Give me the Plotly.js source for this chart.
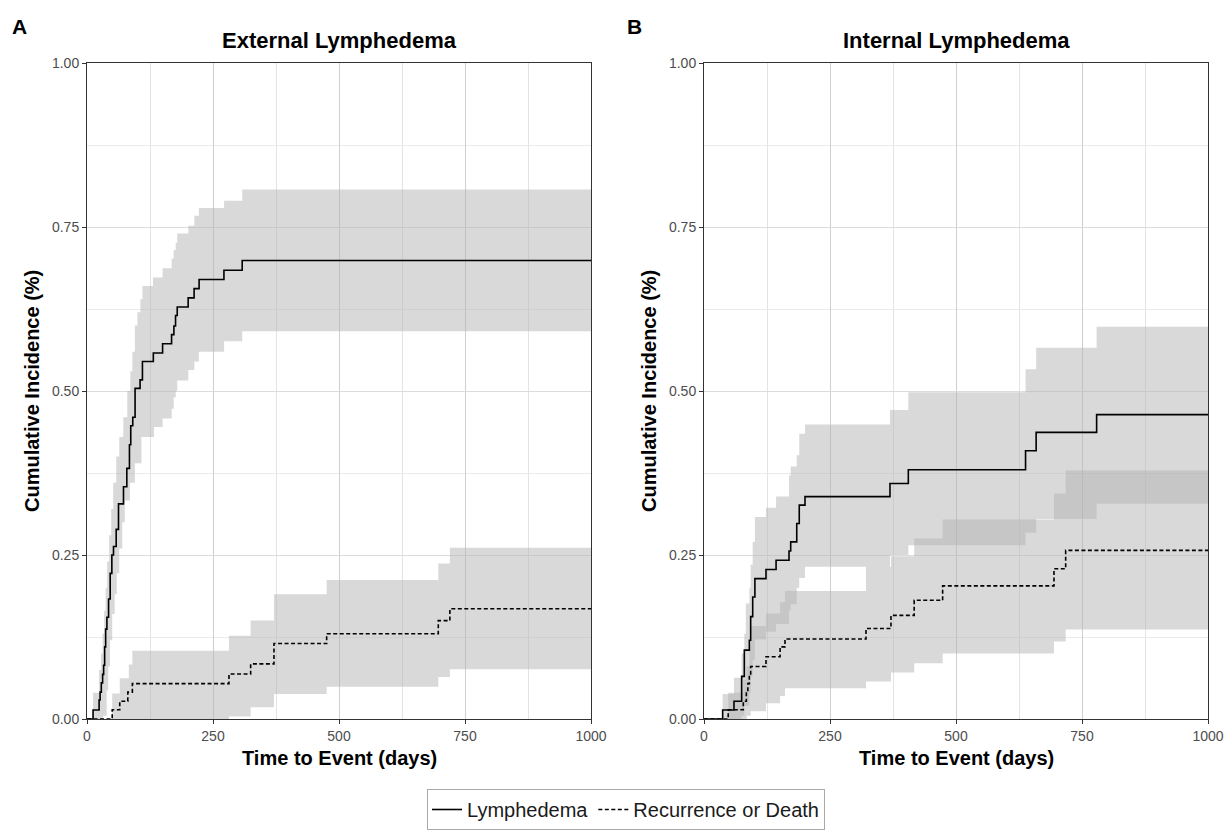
<!DOCTYPE html>
<html>
<head>
<meta charset="utf-8">
<script src="https://cdn.plot.ly/plotly-3.0.1.min.js"></script>
<style>html,body{margin:0;padding:0;background:#fff;}#chart{width:1227px;height:832px;}</style>
</head>
<body>
<div id="chart"></div>
<script>
// ---------------- DATA (time in days, cumulative incidence) ----------------
// Panel A: External Lymphedema
const extLymphT  = [0, 12, 24, 26, 28.4, 31, 33, 35, 37, 39.5, 42.8, 46, 49.3, 52.6, 57.9, 62.5, 72.4, 79, 84.2, 86.8, 90.8, 95.4, 105.3, 110, 131.6, 150, 167.8, 172.4, 175.7, 179, 200.7, 212.5, 222.4, 271.7, 307.9];
const extLymphV  = [0, 0.0137, 0.029, 0.041, 0.055, 0.068, 0.082, 0.11, 0.137, 0.155, 0.183, 0.222, 0.25, 0.263, 0.289, 0.328, 0.354, 0.382, 0.418, 0.447, 0.46, 0.504, 0.517, 0.545, 0.558, 0.572, 0.586, 0.599, 0.615, 0.628, 0.642, 0.656, 0.67, 0.684, 0.699];
const extLymphUpT = [0, 12, 24, 28, 31, 34, 37, 40, 44, 48, 52, 58, 64, 72, 80, 86, 90, 95, 100, 106, 110, 131, 150, 168, 172, 176, 179, 201, 213, 222, 272, 308];
const extLymphUpV = [0, 0.04, 0.075, 0.10, 0.13, 0.165, 0.20, 0.24, 0.28, 0.32, 0.36, 0.40, 0.43, 0.46, 0.50, 0.53, 0.56, 0.60, 0.62, 0.64, 0.66, 0.673, 0.687, 0.702, 0.715, 0.726, 0.74, 0.752, 0.767, 0.779, 0.79, 0.807];
const extLymphLoT = [0, 32, 39, 42, 45.6, 50, 55, 59, 64, 70, 75, 85, 95, 108, 133, 150, 168, 172, 176, 179, 201, 213, 222, 272, 308];
const extLymphLoV = [0, 0.005, 0.044, 0.08, 0.12, 0.16, 0.19, 0.222, 0.26, 0.30, 0.333, 0.36, 0.39, 0.43, 0.445, 0.458, 0.473, 0.49, 0.50, 0.516, 0.532, 0.545, 0.56, 0.576, 0.591];

const extDeathT  = [0, 50, 65, 81, 90, 281.7, 324.7, 371, 475.5, 697, 720];
const extDeathV  = [0, 0.014, 0.027, 0.041, 0.054, 0.0685, 0.084, 0.115, 0.130, 0.150, 0.168];
const extDeathUpT = [0, 50, 65, 83, 90, 281.7, 324.7, 371, 475.5, 697, 720];
const extDeathUpV = [0, 0.039, 0.062, 0.083, 0.104, 0.127, 0.150, 0.19, 0.212, 0.237, 0.261];
const extDeathLoT = [0, 281.7, 324.7, 371, 475.5, 697, 720];
const extDeathLoV = [0, 0.004, 0.018, 0.038, 0.049, 0.064, 0.076];

// Panel B: Internal Lymphedema
const intLymphT  = [0, 37, 59.5, 74.7, 80, 90, 92.6, 96.6, 101, 123, 143, 168.7, 172, 184, 189, 200.4, 369, 405.4, 638, 659, 779];
const intLymphV  = [0, 0.0137, 0.027, 0.065, 0.105, 0.12, 0.156, 0.186, 0.214, 0.228, 0.242, 0.256, 0.27, 0.298, 0.326, 0.339, 0.359, 0.38, 0.409, 0.437, 0.464];
const intLymphUpT = [0, 37, 59.5, 74.7, 80, 83, 90, 92.6, 96.6, 101, 123, 143, 168.7, 172, 184, 189, 200.4, 369, 405.4, 638, 659, 779];
const intLymphUpV = [0, 0.038, 0.063, 0.10, 0.13, 0.176, 0.20, 0.235, 0.27, 0.308, 0.322, 0.339, 0.371, 0.385, 0.402, 0.435, 0.449, 0.471, 0.498, 0.533, 0.566, 0.598];
const intLymphLoT = [0, 74.7, 80, 90, 92.6, 96.6, 101, 123, 143, 168.7, 172, 184, 189, 200.4, 369, 405.4, 638, 659, 779];
const intLymphLoV = [0, 0.005, 0.02, 0.04, 0.065, 0.09, 0.121, 0.133, 0.145, 0.165, 0.175, 0.20, 0.215, 0.232, 0.25, 0.265, 0.284, 0.305, 0.328];

const intDeathT  = [0, 48, 78, 84, 87, 90, 92.6, 123, 151, 160.7, 321.4, 371, 417, 473.5, 694.4, 717.6];
const intDeathV  = [0, 0.014, 0.027, 0.041, 0.054, 0.067, 0.08, 0.095, 0.11, 0.122, 0.138, 0.158, 0.181, 0.203, 0.229, 0.257];
const intDeathUpT = [0, 48, 78, 84, 90, 92.6, 123, 151, 160.7, 321.4, 371, 417, 473.5, 694.4, 717.6];
const intDeathUpV = [0, 0.04, 0.06, 0.08, 0.11, 0.1416, 0.161, 0.178, 0.195, 0.232, 0.248, 0.275, 0.304, 0.3435, 0.379];
const intDeathLoT = [0, 85, 92.6, 123, 151, 160.7, 321.4, 371, 417, 473.5, 694.4, 717.6];
const intDeathLoV = [0, 0.005, 0.012, 0.024, 0.035, 0.047, 0.057, 0.071, 0.085, 0.1, 0.118, 0.1365];

const xTickVals = [0, 250, 500, 750, 1000];
const yTickVals = [0, 0.25, 0.5, 0.75, 1];
const seriesNames = ['Lymphedema', 'Recurrence or Death'];
const panelTitles = ['External Lymphedema', 'Internal Lymphedema'];
const panelLetters = ['A', 'B'];
const tEnd = 1000;

// ---------------- helpers ----------------
function stepPath(t, v, end) {
  const xs = [], ys = [];
  for (let i = 0; i < t.length; i++) {
    const next = i < t.length - 1 ? t[i + 1] : end;
    xs.push(t[i]); ys.push(v[i]);
    xs.push(next); ys.push(v[i]);
  }
  return {xs, ys};
}
function band(upT, upV, loT, loV, xa, ya) {
  const u = stepPath(upT, upV, tEnd), l = stepPath(loT, loV, tEnd);
  return {
    x: u.xs.concat(l.xs.slice().reverse()),
    y: u.ys.concat(l.ys.slice().reverse()),
    xaxis: xa, yaxis: ya, type: 'scatter', mode: 'lines',
    fill: 'toself', fillcolor: 'rgba(179,179,179,0.5)',
    line: {width: 0}, hoverinfo: 'skip', showlegend: false
  };
}
function curve(t, v, xa, ya, dash, name, show) {
  return {
    x: t.concat([tEnd]), y: v.concat([v[v.length - 1]]),
    xaxis: xa, yaxis: ya, type: 'scatter', mode: 'lines',
    line: {shape: 'hv', color: '#000', width: 1.6, dash: dash},
    name: name, showlegend: show, legendgroup: name
  };
}

const data = [
  band(extLymphUpT, extLymphUpV, extLymphLoT, extLymphLoV, 'x', 'y'),
  band(extDeathUpT, extDeathUpV, extDeathLoT, extDeathLoV, 'x', 'y'),
  band(intLymphUpT, intLymphUpV, intLymphLoT, intLymphLoV, 'x2', 'y2'),
  band(intDeathUpT, intDeathUpV, intDeathLoT, intDeathLoV, 'x2', 'y2'),
  curve(extLymphT, extLymphV, 'x', 'y', 'solid', seriesNames[0], true),
  curve(extDeathT, extDeathV, 'x', 'y', '4px,2.5px', seriesNames[1], true),
  curve(intLymphT, intLymphV, 'x2', 'y2', 'solid', seriesNames[0], false),
  curve(intDeathT, intDeathV, 'x2', 'y2', '4px,2.5px', seriesNames[1], false)
];

const W = 1227, H = 832;
const px = v => v / W, py = v => 1 - v / H;
const font = '"Liberation Sans", Arial, Helvetica, sans-serif';

function xAxis(domain, anchor) {
  return {
    domain: domain, anchor: anchor, range: [0, 1000], tickmode: 'array', tickvals: xTickVals,
    ticks: 'outside', ticklen: 4, tickwidth: 1, tickcolor: '#333',
    showline: true, mirror: true, linecolor: '#333', linewidth: 1,
    showgrid: true, gridcolor: '#cfcfcf', gridwidth: 1,
    minor: {tickmode: 'array', tickvals: [125, 375, 625, 875], showgrid: true, gridcolor: '#e3e3e3', gridwidth: 1, ticks: ''},
    zeroline: false, tickfont: {family: font, size: 14, color: '#4d4d4d'}, fixedrange: true
  };
}
function yAxis(domain, anchor) {
  return {
    domain: domain, anchor: anchor, range: [0, 1], tickmode: 'array', tickvals: yTickVals, tickformat: '.2f',
    ticks: 'outside', ticklen: 4, tickwidth: 1, tickcolor: '#333',
    showline: true, mirror: true, linecolor: '#333', linewidth: 1,
    showgrid: true, gridcolor: '#dcdcdc', gridwidth: 1,
    minor: {tickmode: 'array', tickvals: [0.125, 0.375, 0.625, 0.875], showgrid: true, gridcolor: '#ebebeb', gridwidth: 1, ticks: ''},
    zeroline: false, tickfont: {family: font, size: 14, color: '#4d4d4d'}, fixedrange: true
  };
}

const yDom = [1 - 719 / H, 1 - 63 / H];
const layout = {
  width: W, height: H, margin: {l: 0, r: 0, t: 0, b: 0},
  paper_bgcolor: '#fff', plot_bgcolor: '#fff',
  xaxis: xAxis([px(87), px(591)], 'y'),
  yaxis: yAxis(yDom, 'x'),
  xaxis2: xAxis([px(704), px(1208)], 'y2'),
  yaxis2: yAxis(yDom, 'x2'),
  showlegend: true,
  legend: {
    orientation: 'h', x: px(626), xanchor: 'center', y: py(789), yanchor: 'top',
    bordercolor: '#aaaaaa', borderwidth: 1, bgcolor: '#fff',
    font: {family: font, size: 20, color: '#1a1a1a'}, itemwidth: 30, tracegroupgap: 0
  },
  annotations: [
    {text: '<b>' + panelLetters[0] + '</b>', x: px(19), y: py(26), xref: 'paper', yref: 'paper', showarrow: false, xanchor: 'center', yanchor: 'middle', font: {family: font, size: 21, color: '#000'}},
    {text: '<b>' + panelLetters[1] + '</b>', x: px(634), y: py(26), xref: 'paper', yref: 'paper', showarrow: false, xanchor: 'center', yanchor: 'middle', font: {family: font, size: 21, color: '#000'}},
    {text: '<b>' + panelTitles[0] + '</b>', x: px(339), y: py(41), xref: 'paper', yref: 'paper', showarrow: false, xanchor: 'center', yanchor: 'middle', font: {family: font, size: 22, color: '#000'}},
    {text: '<b>' + panelTitles[1] + '</b>', x: px(956), y: py(41), xref: 'paper', yref: 'paper', showarrow: false, xanchor: 'center', yanchor: 'middle', font: {family: font, size: 22, color: '#000'}},
    {text: '<b>Time to Event (days)</b>', x: px(339), y: py(758), xref: 'paper', yref: 'paper', showarrow: false, xanchor: 'center', yanchor: 'middle', font: {family: font, size: 20, color: '#000'}},
    {text: '<b>Time to Event (days)</b>', x: px(956), y: py(758), xref: 'paper', yref: 'paper', showarrow: false, xanchor: 'center', yanchor: 'middle', font: {family: font, size: 20, color: '#000'}},
    {text: '<b>Cumulative Incidence (%)</b>', x: px(32), y: py(391), xref: 'paper', yref: 'paper', showarrow: false, xanchor: 'center', yanchor: 'middle', textangle: -90, font: {family: font, size: 20, color: '#000'}},
    {text: '<b>Cumulative Incidence (%)</b>', x: px(649), y: py(391), xref: 'paper', yref: 'paper', showarrow: false, xanchor: 'center', yanchor: 'middle', textangle: -90, font: {family: font, size: 20, color: '#000'}}
  ]
};

Plotly.newPlot('chart', data, layout, {staticPlot: true, displayModeBar: false});
</script>
</body>
</html>
